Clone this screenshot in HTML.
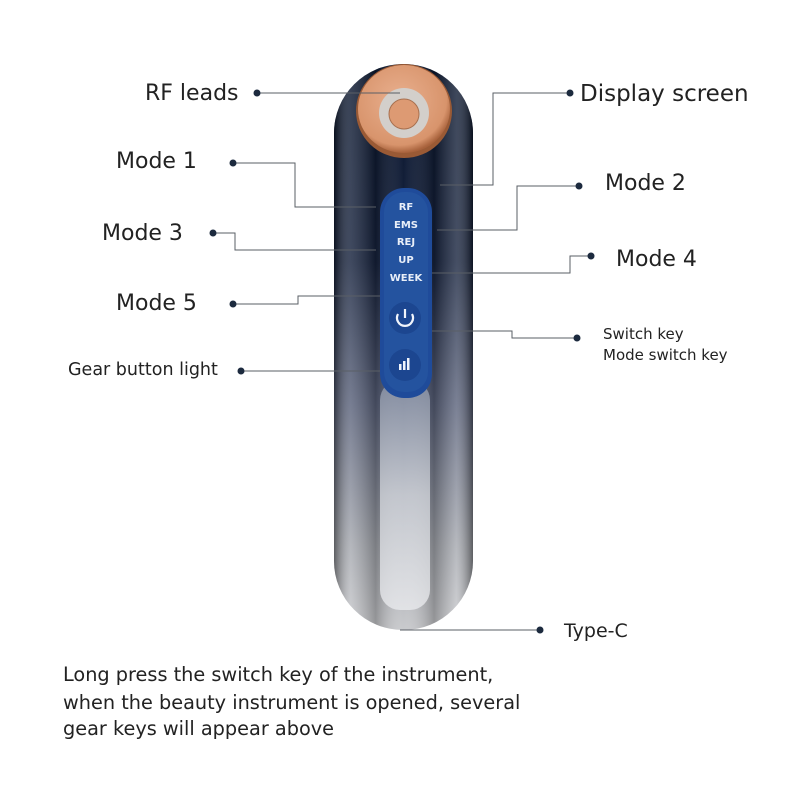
<!DOCTYPE html>
<html><head><meta charset="utf-8"><style>
html,body{margin:0;padding:0;background:#fff}
svg{display:block}
text{font-family:"DejaVu Sans","Liberation Sans",sans-serif;fill:#222}
</style></head><body>
<svg width="800" height="800" viewBox="0 0 800 800" xmlns="http://www.w3.org/2000/svg">
<defs>
<linearGradient id="bodyV" x1="0" y1="0" x2="0" y2="1">
<stop offset="0" stop-color="#0c1830"/>
<stop offset="0.35" stop-color="#16223d"/>
<stop offset="0.6" stop-color="#59617a"/>
<stop offset="0.85" stop-color="#a4a7ae"/>
<stop offset="1" stop-color="#c9cacd"/>
</linearGradient>
<linearGradient id="bodyH" x1="0" y1="0" x2="1" y2="0">
<stop offset="0" stop-color="#000" stop-opacity="0.45"/>
<stop offset="0.12" stop-color="#fff" stop-opacity="0.18"/>
<stop offset="0.3" stop-color="#000" stop-opacity="0.25"/>
<stop offset="0.5" stop-color="#fff" stop-opacity="0"/>
<stop offset="0.72" stop-color="#000" stop-opacity="0.25"/>
<stop offset="0.88" stop-color="#fff" stop-opacity="0.2"/>
<stop offset="1" stop-color="#000" stop-opacity="0.45"/>
</linearGradient>
<linearGradient id="stripe" x1="0" y1="0" x2="0" y2="1">
<stop offset="0" stop-color="#8e97aa"/>
<stop offset="0.5" stop-color="#d0d3d9"/>
<stop offset="1" stop-color="#e9eaed"/>
</linearGradient>
<radialGradient id="copper" cx="0.45" cy="0.4" r="0.6">
<stop offset="0" stop-color="#e9b08f"/>
<stop offset="0.85" stop-color="#d8946c"/>
<stop offset="1" stop-color="#a8623c"/>
</radialGradient>
</defs>

<rect x="334" y="64" width="139" height="566" rx="69" fill="url(#bodyV)"/>
<rect x="334" y="64" width="139" height="566" rx="69" fill="url(#bodyH)"/>
<rect x="380" y="380" width="50" height="230" rx="20" fill="url(#stripe)" opacity="0.8"/>
<rect x="380" y="188" width="52" height="210" rx="24" fill="#1f4b9a"/>
<rect x="384" y="192" width="44" height="200" rx="20" fill="#24539f"/>
<g font-weight="bold" font-size="10" text-anchor="middle" style="fill:#e8eef8">
<text x="406" y="210" style="fill:#e8eef8">RF</text>
<text x="406" y="228" style="fill:#e8eef8">EMS</text>
<text x="406" y="245" style="fill:#e8eef8">REJ</text>
<text x="406" y="263" style="fill:#e8eef8">UP</text>
<text x="406" y="281" style="fill:#e8eef8">WEEK</text>
</g>
<circle cx="405" cy="318" r="16" fill="#1c4690"/>
<path d="M398 314 A8 8 0 1 0 412 314" fill="none" stroke="#f0f4fb" stroke-width="2.2"/>
<line x1="405" y1="309" x2="405" y2="318" stroke="#f0f4fb" stroke-width="2.2"/>
<circle cx="405" cy="365" r="16" fill="#1c4690"/>
<rect x="399" y="364" width="2.5" height="6" fill="#f0f4fb"/>
<rect x="403" y="361" width="2.5" height="9" fill="#f0f4fb"/>
<rect x="407" y="358" width="2.5" height="12" fill="#f0f4fb"/>

<ellipse cx="404" cy="111" rx="48" ry="47" fill="#9a5a35"/>
<ellipse cx="404" cy="109" rx="46" ry="44" fill="url(#copper)"/>
<circle cx="404" cy="113" r="25" fill="#d3cfcb"/>
<circle cx="404" cy="114" r="15" fill="#dd9a73" stroke="#a8704f" stroke-width="1"/>

<g fill="none" stroke="#5a5f66" stroke-width="1">
<polyline points="257,93 400,93"/>
<polyline points="570,93 493,93 493,185 440,185"/>
<polyline points="233,163 295,163 295,207 376,207"/>
<polyline points="579,186 517,186 517,230 437,230"/>
<polyline points="213,233 235,233 235,250 376,250"/>
<polyline points="591,256 570,256 570,273 432,273"/>
<polyline points="233,304 298,304 298,296 380,296"/>
<polyline points="577,338 512,338 512,331 432,331"/>
<polyline points="241,371 380,371"/>
<polyline points="540,630 400,630"/>
</g>
<g fill="#1c2a3e">
<circle cx="257" cy="93" r="3.5"/>
<circle cx="570" cy="93" r="3.5"/>
<circle cx="233" cy="163" r="3.5"/>
<circle cx="579" cy="186" r="3.5"/>
<circle cx="213" cy="233" r="3.5"/>
<circle cx="591" cy="256" r="3.5"/>
<circle cx="233" cy="304" r="3.5"/>
<circle cx="577" cy="338" r="3.5"/>
<circle cx="241" cy="371" r="3.5"/>
<circle cx="540" cy="630" r="3.5"/>
</g>

<text x="145" y="100" font-size="22">RF leads</text>
<text x="580" y="101" font-size="23">Display screen</text>
<text x="116" y="168" font-size="22">Mode 1</text>
<text x="605" y="190" font-size="22">Mode 2</text>
<text x="102" y="240" font-size="22">Mode 3</text>
<text x="616" y="266" font-size="22">Mode 4</text>
<text x="116" y="310" font-size="22">Mode 5</text>
<text x="603" y="339" font-size="15">Switch key</text>
<text x="603" y="360" font-size="15">Mode switch key</text>
<text x="68" y="375" font-size="17.5">Gear button light</text>
<text x="564" y="637" font-size="19">Type-C</text>
<text x="63" y="681" font-size="19.3">Long press the switch key of the instrument,</text>
<text x="63" y="709" font-size="19.3">when the beauty instrument is opened, several</text>
<text x="63" y="735" font-size="19.3">gear keys will appear above</text>
</svg>
</body></html>
